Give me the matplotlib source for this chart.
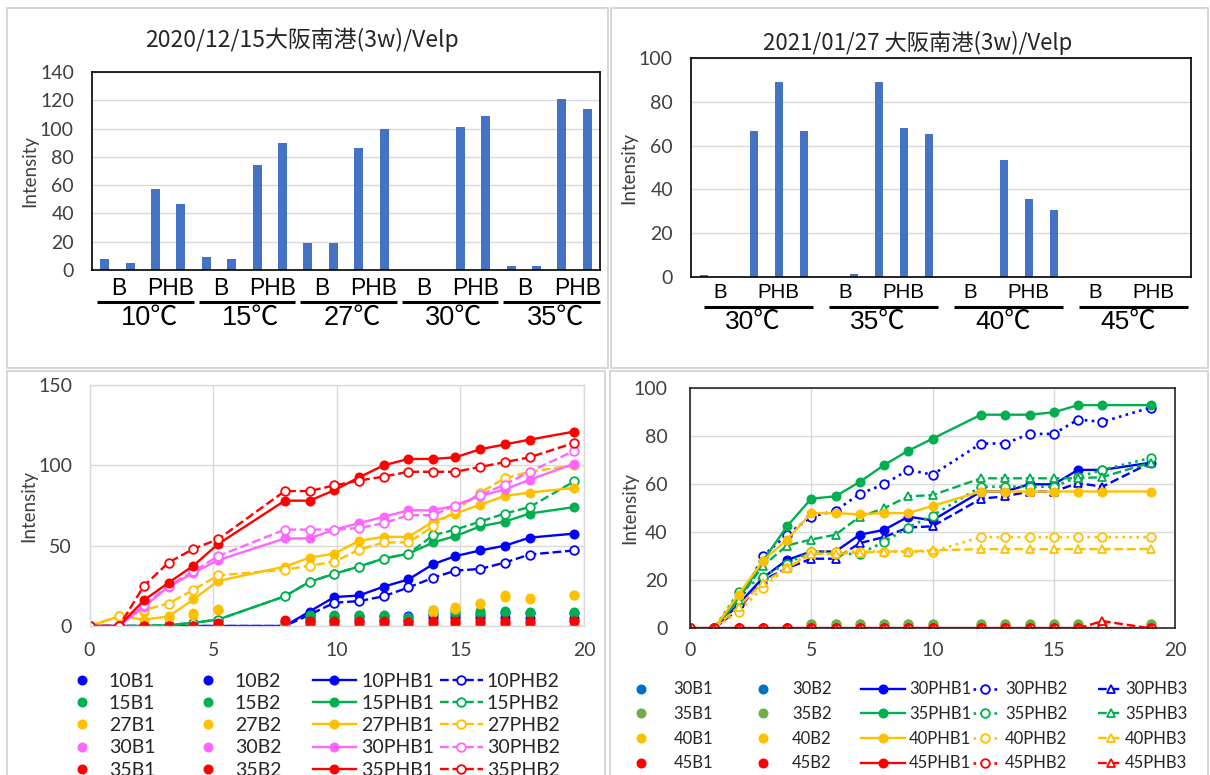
import matplotlib
matplotlib.use("Agg")
import matplotlib.pyplot as plt
from matplotlib.patches import Rectangle
from matplotlib.transforms import blended_transform_factory

W, H = 1210, 775

# ---------------- 2020/12/15 bars (B1, B2, PHB1, PHB2 per temperature) ----------------
a_temps = ["10℃", "15℃", "27℃", "30℃", "35℃"]
a_b1 = [8, 9, 19, 0, 3]
a_b2 = [5, 8, 19, 0, 3]
a_phb1 = [57.5, 74, 86, 101, 121]
a_phb2 = [47, 90, 100, 109, 114]

# ---------------- 2021/01/27 bars (B1, B2, PHB1, PHB2, PHB3 per temperature) ----------------
b_temps = ["30℃", "35℃", "40℃", "45℃"]
b_b1 = [1, 0, 0, 0]
b_b2 = [0, 1.5, 0, 0]
b_phb1 = [66.5, 89, 53.5, 0]
b_phb2 = [89, 68, 35.5, 0]
b_phb3 = [66.5, 65.5, 30.5, 0]

# ---------------- 2020/12/15 time courses ----------------
t_a = [0, 1.2, 2.2, 3.2, 4.2, 5.2, 7.9, 8.9, 9.9, 10.9, 11.9, 12.9, 13.9, 14.8, 15.8, 16.8, 17.8, 19.6]
c10_b1 = [0, 0, 0, 0, 0, 0, 0, 5, 6, 6, 6, 6, 7, 7, 7, 8, 8, 8]
c10_b2 = [0, 0, 0, 0, 0, 0, 0, 3, 4, 4, 4, 4, 5, 5, 5, 5, 5, 5]
c10_phb1 = [0, 0, 0, 0, 0, 0, 0, 9, 18, 19, 24.5, 29, 38.5, 43.5, 47, 50, 55, 57.5]
c10_phb2 = [0, 0, 0, 0, 0, 0, 0, 7, 14.5, 15.5, 18.5, 24, 30, 34.5, 35.5, 39.5, 44.5, 47]
c15_b1 = [0, 0, 0, 0, 0, 0, 2, 7, 7, 7, 7, 5.5, 10, 9.5, 9.5, 9.5, 9, 9]
c15_b2 = [0, 0, 0, 0, 0, 0, 1, 5, 5, 5.5, 5.5, 4, 8, 8, 8, 8.5, 8, 8]
c15_phb1 = [0, 0, 0, 0.5, 2, 4, 18.5, 27.5, 32.5, 37, 42, 45, 52, 56, 62, 65, 70, 74]
c15_phb2 = [0, 0, 0, 0.5, 2, 4, 18.5, 27.5, 32.5, 37, 42, 45, 56.5, 60, 65, 70, 74, 90]
c27_b1 = [0, 6, 9.5, 5, 8, 10.5, 0, 0, 0, 0, 0, 0, 10, 12, 14.5, 19.5, 17.5, 19]
c27_b2 = [0, 6, 9, 5, 7, 10, 0, 0, 0, 0, 0, 0, 8.5, 10.5, 13.5, 18, 17, 19]
c27_phb1 = [0, 6, 4, 6, 16.5, 28, 37, 42.5, 45, 53, 55.5, 55.5, 65, 70, 75.5, 81, 83, 86]
c27_phb2 = [0, 6, 10, 14, 22.5, 31.5, 35, 37.5, 40, 47.5, 52, 52, 62, 72, 83, 92, 96, 100]
c30_b1 = [0] * 18
c30_b2 = [0] * 18
c30_phb1 = [0, 0, 12, 24.5, 33, 41, 54.5, 54.5, 60, 64, 68, 72, 72, 75, 81, 85, 91, 101]
c30_phb2 = [0, 0, 13, 25, 34, 43.5, 60, 60, 60, 61, 64, 69, 69, 75, 81.5, 88, 96, 109]
c35_b1 = [0, 0, 0, 0, 0, 2, 3.5, 3, 3, 3, 3, 2.5, 3, 3, 3, 3, 3, 3]
c35_b2 = [0, 0, 0, 0, 0, 0, 3, 2, 2, 2, 2, 1.5, 2, 2, 2, 2, 2, 3]
c35_phb1 = [0, 0, 16, 27, 37.5, 51, 78, 78, 84.5, 92.5, 100, 104, 104, 105, 110, 113, 116, 121]
c35_phb2 = [0, 0, 25, 39.5, 48, 54, 84, 84, 87.5, 90.5, 93, 96, 96, 96, 99, 102, 105, 114]

# ---------------- 2021/01/27 time courses ----------------
t_b = [0, 1, 2, 3, 4, 5, 6, 7, 8, 9, 10, 12, 13, 14, 15, 16, 17, 19]
d30_b1 = [0] * 18
d30_b2 = [0] * 18
d30_phb1 = [0, 0, 10, 21, 28.5, 32, 32, 39, 41, 46.5, 45, 57, 57, 60, 60, 66, 66, 69]
d30_phb2 = [0, 0, 10, 30, 39, 46.5, 49, 56, 60, 66, 64, 77, 77, 81, 81, 87, 86, 92]
d30_phb3 = [0, 0, 8, 20, 25, 29, 29, 35.5, 38, 42, 42.5, 54, 55, 57, 57, 60.5, 59, 69]
d35_b1 = [0, 0, 0, 0, 0, 2, 2, 2, 2, 2, 2, 2, 2, 2, 2, 2, 2, 2]
d35_b2 = [0, 0, 0, 0, 0, 2, 2, 2, 2, 2, 2, 2, 2, 2, 2, 2, 2, 2]
d35_phb1 = [0, 0, 12, 28, 42.5, 54, 55, 61, 68, 74, 79, 89, 89, 89, 90, 93, 93, 93]
d35_phb2 = [0, 0, 15, 21.5, 27, 32, 31, 31, 36, 42, 47, 59, 59, 59, 59, 63, 66, 71]
d35_phb3 = [0, 0, 12, 26, 34.5, 37, 39, 46.5, 50, 55, 55.5, 62.5, 62.5, 62.5, 62.5, 62.5, 63, 69]
d40_b1 = [0] * 18
d40_b2 = [0] * 18
d40_phb1 = [0, 0, 14, 28, 37, 48, 48, 47.5, 48, 48, 51, 57, 57, 57, 57, 57, 57, 57]
d40_phb2 = [0, 0, 7, 17, 25, 32, 32, 32, 32, 32, 32, 38, 38, 38, 38, 38, 38, 38]
d40_phb3 = [0, 0, 9, 19, 25, 31, 31, 31.5, 32, 32, 32.5, 33, 33, 33, 33, 33, 33, 33]
d45_b1 = [0] * 18
d45_b2 = [0] * 18
d45_phb1 = [0] * 18
d45_phb2 = [0] * 18
d45_phb3 = [0, 0, 0, 0, 0, 0, 0, 0, 0, 0, 0, 0, 0, 0, 0, 0, 3, 0]

BAR = "#4472C4"
GRID = "#d9d9d9"
TICK_FONT = "Lato"
TICK_SIZE = 14
CJK = ["Noto Sans CJK JP", "DejaVu Sans"]
CAT_FONT = ["Liberation Sans Narrow", "Liberation Sans", "Noto Sans CJK JP"]


def fx(x):
    return x / W


def fy(y):
    return 1 - y / H


def box(l, t, r, b):
    return [fx(l), fy(b), (r - l) / W, (b - t) / H]


fig = plt.figure(figsize=(W / 100, H / 100), dpi=100)

# panel outlines
for l, t, r, b in [(7, 8, 608, 368), (611, 8, 1208, 368), (7, 371, 605, 790), (610, 371, 1208, 790)]:
    fig.add_artist(Rectangle((fx(l), fy(b)), (r - l) / W, (b - t) / H, transform=fig.transFigure,
                             fill=False, edgecolor="#d0d0d0", lw=1.2))


def style_axes(ax, frame_color, ypad, xpad=10):
    for s in ax.spines.values():
        s.set_color(frame_color)
        s.set_linewidth(1.2 if frame_color != GRID else 1.0)
    ax.tick_params(length=0, labelsize=TICK_SIZE, colors="#404040")
    ax.tick_params(axis="y", pad=ypad)
    ax.tick_params(axis="x", pad=xpad)
    for lab in ax.get_xticklabels() + ax.get_yticklabels():
        lab.set_family(TICK_FONT)
    ax.set_axisbelow(True)


def ylabel(ax, x_center_px, ax_left, ax_w):
    ax.set_ylabel("Intensity", family=TICK_FONT, fontsize=13.5, color="#404040")
    ax.yaxis.set_label_coords((x_center_px + 10 - ax_left) / ax_w, 0.5)


def group_labels(ax, n_groups, size, temps, offs, ys, fs_small, fs_big):
    tr = blended_transform_factory(ax.transData, ax.transAxes)
    b_off, p_off, l0, l1, c_off = offs
    y_bp, y_line, y_temp = ys
    for g in range(n_groups):
        x0 = g * size
        ax.text(x0 + b_off, y_bp, "B", transform=tr, ha="center", va="center",
                family=CAT_FONT, fontsize=fs_small)
        ax.text(x0 + p_off, y_bp, "PHB", transform=tr, ha="center", va="center",
                family=CAT_FONT, fontsize=fs_small)
        ax.plot([x0 + l0, x0 + l1], [y_line, y_line], transform=tr, color="black",
                lw=2.2, clip_on=False, solid_capstyle="butt")
        ax.text(x0 + c_off, y_temp, temps[g], transform=tr, ha="center", va="center",
                family=CAT_FONT, fontsize=fs_big)


# ---------------- top-left bar chart ----------------
ax1 = fig.add_axes(box(92, 72, 600, 270))
h1 = []
for i in range(len(a_temps)):
    h1 += [a_b1[i], a_b2[i], a_phb1[i], a_phb2[i]]
ax1.bar(range(len(h1)), h1, width=0.36, color=BAR)
ax1.set_xlim(-0.5, len(h1) - 0.5)
ax1.set_ylim(0, 140)
ax1.set_yticks(range(0, 141, 20))
ax1.set_xticks([])
ax1.yaxis.grid(True, color=GRID, lw=1)
style_axes(ax1, "black", ypad=13)
ylabel(ax1, 28, 92, 508)
group_labels(ax1, 5, 4, a_temps, (0.55, 2.6, -0.3, 3.5, 1.75),
             (-0.091, -0.162, -0.244), 16.5, 19.5)
fig.text(fx(302), fy(40), "2020/12/15大阪南港(3w)/Velp", family=CJK, fontsize=16.5,
         ha="center", va="center", color="#262626")

# ---------------- top-right bar chart ----------------
ax2 = fig.add_axes(box(691, 58, 1191, 277))
h2 = []
for i in range(len(b_temps)):
    h2 += [b_b1[i], b_b2[i], b_phb1[i], b_phb2[i], b_phb3[i]]
ax2.bar(range(len(h2)), h2, width=0.32, color=BAR)
ax2.set_xlim(-0.5, len(h2) - 0.5)
ax2.set_ylim(0, 100)
ax2.set_yticks(range(0, 101, 20))
ax2.set_xticks([])
ax2.yaxis.grid(True, color=GRID, lw=1)
style_axes(ax2, "black", ypad=13)
ylabel(ax2, 627, 691, 500)
group_labels(ax2, 4, 5, b_temps, (0.66, 2.98, 0.0, 4.37, 1.99),
             (-0.073, -0.137, -0.205), 14.8, 19)
fig.text(fx(918), fy(43), "2021/01/27 大阪南港(3w)/Velp", family=CJK, fontsize=16,
         ha="center", va="center", color="#262626")

# ---------------- bottom-left time course ----------------
ax3 = fig.add_axes(box(89.5, 385, 584, 626))
cols_a = {"10": "#0000FF", "15": "#00B050", "27": "#FFC000", "30": "#FF66FF", "35": "#FF0000"}
series_a = [
    ("10", c10_b1, c10_b2, c10_phb1, c10_phb2),
    ("15", c15_b1, c15_b2, c15_phb1, c15_phb2),
    ("27", c27_b1, c27_b2, c27_phb1, c27_phb2),
    ("30", c30_b1, c30_b2, c30_phb1, c30_phb2),
    ("35", c35_b1, c35_b2, c35_phb1, c35_phb2),
]
leg_a = [[], [], [], []]
for name, b1, b2, p1, p2 in series_a:
    c = cols_a[name]
    l_b1, = ax3.plot(t_a, b1, ls="none", marker="o", ms=6.2, color=c, label=name + "B1")
    l_b2, = ax3.plot(t_a, b2, ls="none", marker="o", ms=6.2, color=c, label=name + "B2")
    l_p1, = ax3.plot(t_a, p1, ls="-", lw=1.7, marker="o", ms=6.2, color=c, label=name + "PHB1")
    l_p2, = ax3.plot(t_a, p2, ls="--", lw=1.7, marker="o", ms=6.2, mfc="white", mew=1.3,
                     color=c, label=name + "PHB2")
    for k, h in enumerate([l_b1, l_b2, l_p1, l_p2]):
        leg_a[k].append(h)
ax3.set_xlim(0, 20)
ax3.set_ylim(0, 150)
ax3.set_xticks(range(0, 21, 5))
ax3.set_yticks(range(0, 151, 50))
ax3.grid(True, color=GRID, lw=1)
style_axes(ax3, GRID, ypad=12.5, xpad=11.5)
ylabel(ax3, 27, 89.5, 494.5)

# ---------------- bottom-right time course ----------------
ax4 = fig.add_axes(box(690, 388.3, 1175, 628.3))
cols_b = {"30": "#0000FF", "35": "#00B050", "40": "#FFC000", "45": "#FF0000"}
cols_bb = {"30": "#0070C0", "35": "#70AD47", "40": "#FFC000", "45": "#FF0000"}
series_b = [
    ("30", d30_b1, d30_b2, d30_phb1, d30_phb2, d30_phb3),
    ("35", d35_b1, d35_b2, d35_phb1, d35_phb2, d35_phb3),
    ("40", d40_b1, d40_b2, d40_phb1, d40_phb2, d40_phb3),
    ("45", d45_b1, d45_b2, d45_phb1, d45_phb2, d45_phb3),
]
leg_b = [[], [], [], [], []]
for name, b1, b2, p1, p2, p3 in series_b:
    c = cols_b[name]
    cb = cols_bb[name]
    l_b1, = ax4.plot(t_b, b1, ls="none", marker="o", ms=6.2, color=cb, label=name + "B1")
    l_b2, = ax4.plot(t_b, b2, ls="none", marker="o", ms=6.2, color=cb, label=name + "B2")
    l_p1, = ax4.plot(t_b, p1, ls="-", lw=1.7, marker="o", ms=6.2, color=c, label=name + "PHB1")
    l_p2, = ax4.plot(t_b, p2, ls=":", lw=1.9, marker="o", ms=6.2, mfc="white", mew=1.3,
                     color=c, label=name + "PHB2")
    l_p3, = ax4.plot(t_b, p3, ls="--", lw=1.7, marker="^", ms=6.2, mfc="white", mew=1.3,
                     color=c, label=name + "PHB3")
    for k, h in enumerate([l_b1, l_b2, l_p1, l_p2, l_p3]):
        leg_b[k].append(h)
ax4.set_xlim(0, 20)
ax4.set_ylim(0, 100)
ax4.set_xticks(range(0, 21, 5))
ax4.set_yticks(range(0, 101, 20))
ax4.grid(True, color=GRID, lw=1)
style_axes(ax4, "#262626", ypad=16, xpad=10)
ylabel(ax4, 628, 690, 485)


# ---------------- legends, one per column ----------------
def column_legend(handles, x_px, top_px, fs, hlen, hpad, lspace):
    fig.legend(handles=handles, labels=[h.get_label() for h in handles], loc="upper left",
               bbox_to_anchor=(fx(x_px), fy(top_px)), bbox_transform=fig.transFigure,
               frameon=False, borderpad=0, borderaxespad=0, handlelength=hlen,
               handletextpad=hpad, labelspacing=lspace, numpoints=1,
               prop={"family": TICK_FONT, "size": fs}, labelcolor="#262626")


for k, (xs, hl, hp) in enumerate([(60.5, 2.2, 0.28), (186.5, 2.2, 0.28),
                                   (313, 2.2, 0.3), (440, 2.2, 0.2)]):
    column_legend(leg_a[k], xs, 672.6, 14, hl, hp, 0.27)

for k, (xs, hl, hp) in enumerate([(625, 1.9, 1.0), (747, 1.9, 0.8), (861, 2.63, 0.24),
                                   (973, 1.44, 0.48), (1098, 1.5, 0.12)]):
    column_legend(leg_b[k], xs, 681.4, 12, hl, hp, 0.52)

fig.savefig("out.png", dpi=100, facecolor="white")
